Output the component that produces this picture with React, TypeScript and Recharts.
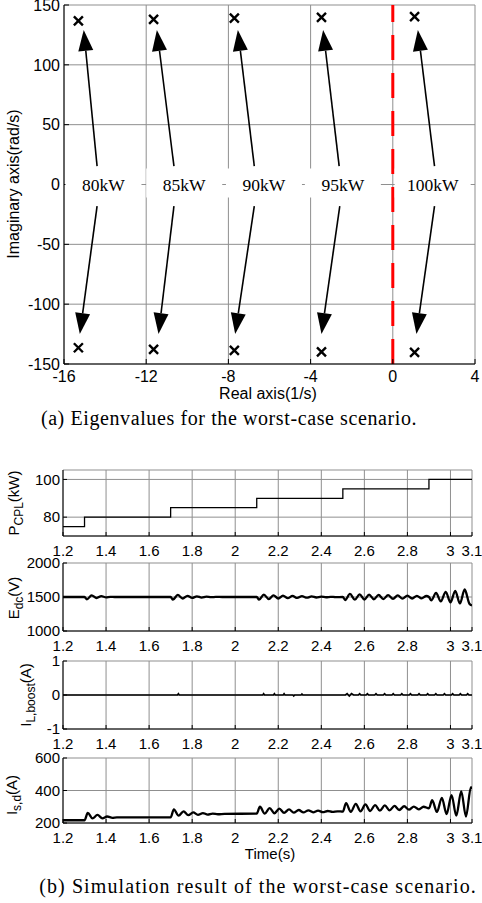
import {
  CartesianGrid,
  Line,
  LineChart,
  ReferenceDot,
  ReferenceLine,
  Scatter,
  ScatterChart,
  XAxis,
  YAxis,
} from "recharts";

// (a) eigenvalue map
const loadLabels = ["80kW", "85kW", "90kW", "95kW", "100kW"];
const eigenReal = [-15.3, -11.64, -7.71, -3.47, 1.06];
const eigenImagUpper = [136.7, 138, 139, 139.7, 140.3];
const eigenImagLower = [-136.4, -137.7, -138.6, -139.8, -140.3];
const labelReal = [-14.08, -10.15, -6.27, -2.43, 1.94];
const arrowTailUpper = [-14.39, -10.65, -6.74, -2.61, 2.03];
const arrowTipUpper = [-15.04, -11.48, -7.54, -3.39, 1.22];
const arrowTailLower = [-14.39, -10.65, -6.74, -2.58, 2.03];
const arrowTipLower = [-15.23, -11.4, -7.67, -3.47, 1.15];
const arrowTailImag = [15.3, -18.1];
const arrowTipImag = [129.2, -125];
const realTicks = [-16, -12, -8, -4, 0, 4];
const imagTicks = [-150, -100, -50, 0, 50, 100, 150];

// (b) time series
const timeTicks = [1.2, 1.4, 1.6, 1.8, 2, 2.2, 2.4, 2.6, 2.8, 3, 3.1];

const pcplPoints: [number, number][] = [
  [1.2, 75], [1.3, 80], [1.7, 85], [2.1, 90], [2.5, 95], [2.9, 100], [3.1, 100],
];

const edcPoints: [number, number][] = [
  [1.2, 1500], [1.3, 1500], [1.311, 1465], [1.333, 1525], [1.356, 1485], [1.378, 1512],
  [1.4, 1495], [1.42, 1503], [1.44, 1500], [1.7, 1500],
  [1.711, 1462], [1.733, 1530], [1.756, 1478], [1.778, 1518], [1.8, 1487], [1.822, 1510],
  [1.844, 1492], [1.866, 1505], [1.888, 1497], [1.91, 1502], [1.94, 1500], [2.1, 1500],
  [2.111, 1460], [2.133, 1535], [2.156, 1470], [2.178, 1525], [2.2, 1478], [2.222, 1520],
  [2.244, 1482], [2.266, 1516], [2.288, 1486], [2.31, 1512], [2.333, 1490], [2.355, 1508],
  [2.377, 1493], [2.4, 1505], [2.422, 1496], [2.444, 1503], [2.466, 1498], [2.5, 1500],
  [2.511, 1455], [2.533, 1545], [2.556, 1460], [2.578, 1540], [2.6, 1463], [2.622, 1535],
  [2.644, 1467], [2.666, 1530], [2.688, 1470], [2.71, 1527], [2.733, 1473], [2.755, 1524],
  [2.777, 1476], [2.8, 1520], [2.822, 1478], [2.844, 1518], [2.866, 1480], [2.888, 1515],
  [2.9, 1500], [2.911, 1450], [2.933, 1560], [2.955, 1435], [2.978, 1575], [3.0, 1420],
  [3.022, 1590], [3.044, 1405], [3.066, 1610], [3.088, 1400], [3.1, 1375],
];

const iboostPoints: [number, number][] = [
  [1.2, 0], [1.732, 0], [1.736, 0.04], [1.74, 0],
  [2.128, 0], [2.132, 0.04], [2.136, 0], [2.178, 0], [2.182, 0.04], [2.186, 0],
  [2.223, 0], [2.227, 0.04], [2.231, 0], [2.268, 0], [2.272, -0.03], [2.276, 0],
  [2.306, 0], [2.31, 0.03], [2.314, 0],
  [2.512, 0], [2.52, 0.04], [2.53, -0.03], [2.54, 0.04], [2.55, 0],
  [2.572, 0], [2.578, 0.04], [2.584, 0], [2.608, 0], [2.614, 0.04], [2.62, 0],
  [2.648, 0], [2.654, 0.04], [2.66, 0], [2.688, 0], [2.694, 0.04], [2.7, 0],
  [2.728, 0], [2.734, 0.04], [2.74, 0], [2.768, 0], [2.774, 0.04], [2.78, 0],
  [2.808, 0], [2.814, 0.04], [2.82, 0], [2.848, 0], [2.854, 0.04], [2.86, 0],
  [2.888, 0], [2.894, 0.04], [2.9, 0], [2.926, 0], [2.932, 0.04], [2.938, 0],
  [2.966, 0], [2.972, 0.04], [2.978, 0], [3.004, 0], [3.01, 0.04], [3.016, 0],
  [3.04, 0], [3.046, 0.04], [3.052, 0], [3.074, 0], [3.08, 0.04], [3.086, 0], [3.1, 0],
];

const isdPoints: [number, number][] = [
  [1.2, 217], [1.3, 217], [1.315, 262], [1.337, 228], [1.36, 250], [1.383, 229],
  [1.405, 240], [1.43, 232], [1.45, 234], [1.7, 235],
  [1.715, 284], [1.737, 245], [1.76, 272], [1.782, 248], [1.805, 265], [1.827, 250],
  [1.85, 261], [1.872, 252], [1.895, 258], [1.92, 254], [1.95, 256], [2.1, 258],
  [2.115, 300], [2.137, 258], [2.16, 292], [2.182, 260], [2.205, 288], [2.227, 262],
  [2.25, 284], [2.272, 264], [2.295, 280], [2.317, 265], [2.34, 278], [2.362, 266],
  [2.385, 276], [2.407, 267], [2.43, 274], [2.452, 268], [2.475, 272], [2.5, 270],
  [2.515, 322], [2.537, 268], [2.56, 318], [2.582, 272], [2.605, 314], [2.627, 274],
  [2.65, 310], [2.672, 276], [2.695, 308], [2.717, 278], [2.74, 305], [2.762, 280],
  [2.785, 303], [2.807, 282], [2.83, 301], [2.852, 284], [2.875, 300], [2.9, 290],
  [2.915, 340], [2.937, 268], [2.96, 355], [2.982, 255], [3.005, 372], [3.027, 245],
  [3.05, 395], [3.072, 240], [3.095, 420], [3.1, 410],
];

const SANS = "'Liberation Sans', Arial, sans-serif";
const SERIF = "'Liberation Serif', 'Times New Roman', serif";
const GRID = "#8f8f8f";

const eigenData = eigenReal
  .map((x, i) => ({ x, y: eigenImagUpper[i] }))
  .concat(eigenReal.map((x, i) => ({ x, y: eigenImagLower[i] })));

const crossShape = (p: any) => {
  const s = 4.5;
  return (
    <path
      d={`M${p.cx - s},${p.cy - s}L${p.cx + s},${p.cy + s}M${p.cx - s},${p.cy + s}L${p.cx + s},${p.cy - s}`}
      stroke="#000"
      strokeWidth={2.4}
      fill="none"
    />
  );
};

const arrowShape = (p: any) => {
  const { x1, y1, x2, y2 } = p;
  const dx = x2 - x1;
  const dy = y2 - y1;
  const len = Math.hypot(dx, dy) || 1;
  const ux = dx / len;
  const uy = dy / len;
  const hl = 21;
  const hw = 7.5;
  const bx = x2 - ux * hl;
  const by = y2 - uy * hl;
  const pts = `${x2},${y2} ${bx - uy * hw},${by + ux * hw} ${bx + uy * hw},${by - ux * hw}`;
  return (
    <g>
      <line x1={x1} y1={y1} x2={bx} y2={by} stroke="#000" strokeWidth={1.6} />
      <polygon points={pts} fill="#000" />
    </g>
  );
};

const labelBox = (text: string) => (p: any) => (
  <g>
    <rect x={p.cx - 38} y={p.cy - 16} width={76} height={29} fill="#fff" />
    <text
      x={p.cx}
      y={p.cy + 6}
      textAnchor="middle"
      fontFamily={SERIF}
      fontSize={17.5}
      fill="#000"
    >
      {text}
    </text>
  </g>
);

const fmtTime = (v: number) => String(Number(v.toFixed(1)));

function RotLabel({ x, y, children }: { x: number; y: number; children: any }) {
  return (
    <div
      style={{
        position: "absolute",
        left: x,
        top: y,
        transform: "translate(-50%, -50%) rotate(-90deg)",
        whiteSpace: "nowrap",
        fontFamily: SANS,
        fontSize: 15,
        color: "#000",
        lineHeight: 1,
      }}
    >
      {children}
    </div>
  );
}

type PanelProps = {
  top: number;
  plotHeight: number;
  points: [number, number][];
  domain: [number, number];
  ticks: number[];
  width: number;
  curve?: "stepAfter" | "linear" | "monotone";
};

function Panel({ top, plotHeight, points, domain, ticks, width, curve = "linear" }: PanelProps) {
  const data = points.map(([t, v]) => ({ t, v }));
  const h = plotHeight + 10 + 26;
  return (
    <div style={{ position: "absolute", left: 0, top: top - 10 }}>
      <LineChart width={482} height={h} data={data} margin={{ top: 10, right: 10, left: 8, bottom: 0 }}>
        <CartesianGrid stroke={GRID} strokeWidth={1} />
        <XAxis
          dataKey="t"
          type="number"
          domain={[1.2, 3.1]}
          ticks={timeTicks}
          tickFormatter={fmtTime}
          height={26}
          tickSize={-4}
          tickMargin={13}
          axisLine={{ stroke: "#000" }}
          tickLine={{ stroke: "#000" }}
          tick={{ fill: "#000", fontSize: 15, fontFamily: SANS }}
          interval={0}
          allowDataOverflow
        />
        <XAxis
          xAxisId="top"
          orientation="top"
          dataKey="t"
          type="number"
          domain={[1.2, 3.1]}
          ticks={timeTicks}
          height={0}
          tick={false}
          tickSize={-4}
          axisLine={{ stroke: "#000" }}
          tickLine={{ stroke: "#000" }}
          interval={0}
        />
        <YAxis
          type="number"
          domain={domain}
          ticks={ticks}
          width={55}
          tickSize={-4}
          tickMargin={7}
          axisLine={{ stroke: "#000" }}
          tickLine={{ stroke: "#000" }}
          tick={{ fill: "#000", fontSize: 15, fontFamily: SANS }}
          interval={0}
          allowDataOverflow
        />
        <YAxis
          yAxisId="right"
          orientation="right"
          type="number"
          domain={domain}
          ticks={ticks}
          width={0}
          tick={false}
          tickSize={-4}
          axisLine={{ stroke: "#000" }}
          tickLine={{ stroke: "#000" }}
          interval={0}
        />
        <Line
          dataKey="v"
          type={curve}
          stroke="#000"
          strokeWidth={width}
          dot={false}
          isAnimationActive={false}
        />
      </LineChart>
    </div>
  );
}

export default function App() {
  return (
    <div style={{ position: "absolute", left: 0, top: 0, width: 482, height: 903, background: "#fff" }}>
      <div style={{ position: "absolute", left: 0, top: 0 }}>
        <ScatterChart width={482} height={400} margin={{ top: 5, right: 7, left: 8, bottom: 0 }}>
          <CartesianGrid stroke={GRID} strokeWidth={1} />
          <XAxis
            dataKey="x"
            type="number"
            domain={[-16, 4]}
            ticks={realTicks}
            height={36}
            tickSize={-5}
            tickMargin={12}
            axisLine={{ stroke: "#000" }}
            tickLine={{ stroke: "#000" }}
            tick={{ fill: "#000", fontSize: 16, fontFamily: SANS }}
            interval={0}
          />
          <XAxis
            xAxisId="top"
            orientation="top"
            dataKey="x"
            type="number"
            domain={[-16, 4]}
            ticks={realTicks}
            height={0}
            tick={false}
            tickSize={-5}
            axisLine={{ stroke: "#000" }}
            tickLine={{ stroke: "#000" }}
            interval={0}
          />
          <YAxis
            dataKey="y"
            type="number"
            domain={[-150, 150]}
            ticks={imagTicks}
            width={56}
            tickSize={-5}
            tickMargin={9}
            axisLine={{ stroke: "#000" }}
            tickLine={{ stroke: "#000" }}
            tick={{ fill: "#000", fontSize: 16, fontFamily: SANS }}
            interval={0}
          />
          <YAxis
            yAxisId="right"
            orientation="right"
            dataKey="y"
            type="number"
            domain={[-150, 150]}
            ticks={imagTicks}
            width={0}
            tick={false}
            tickSize={-5}
            axisLine={{ stroke: "#000" }}
            tickLine={{ stroke: "#000" }}
            interval={0}
          />
          <ReferenceLine x={0} stroke="#ff0000" strokeWidth={3} strokeDasharray="25 13" />
          {loadLabels.map((name, i) => (
            <ReferenceDot key={name} x={labelReal[i]} y={0} r={1} shape={labelBox(name)} />
          ))}
          {loadLabels.map((name, i) => (
            <ReferenceLine
              key={`up-${name}`}
              segment={[
                { x: arrowTailUpper[i], y: arrowTailImag[0] },
                { x: arrowTipUpper[i], y: arrowTipImag[0] },
              ]}
              shape={arrowShape}
            />
          ))}
          {loadLabels.map((name, i) => (
            <ReferenceLine
              key={`down-${name}`}
              segment={[
                { x: arrowTailLower[i], y: arrowTailImag[1] },
                { x: arrowTipLower[i], y: arrowTipImag[1] },
              ]}
              shape={arrowShape}
            />
          ))}
          <Scatter data={eigenData} shape={crossShape} isAnimationActive={false} />
        </ScatterChart>
      </div>

      <RotLabel x={14} y={184}>
        <span style={{ fontSize: 16 }}>Imaginary axis(rad/s)</span>
      </RotLabel>
      <div style={{ position: "absolute", left: 268, top: 394, transform: "translate(-50%, -50%)", fontFamily: SANS, fontSize: 16, whiteSpace: "nowrap" }}>
        Real axis(1/s)
      </div>
      <div style={{ position: "absolute", left: 229, top: 418, transform: "translate(-50%, -50%)", fontFamily: SERIF, fontSize: 20, letterSpacing: 0.6, whiteSpace: "nowrap" }}>
        (a) Eigenvalues for the worst-case scenario.
      </div>

      <Panel top={470} plotHeight={66} points={pcplPoints} domain={[70, 105]} ticks={[80, 100]} width={1.3} curve="stepAfter" />
      <Panel top={563} plotHeight={68} points={edcPoints} domain={[1000, 2000]} ticks={[1000, 1500, 2000]} width={2.3} curve="monotone" />
      <Panel top={661} plotHeight={68} points={iboostPoints} domain={[-1, 1]} ticks={[-1, 0, 1]} width={1.6} />
      <Panel top={758} plotHeight={65} points={isdPoints} domain={[200, 600]} ticks={[200, 400, 600]} width={2.3} curve="monotone" />

      <RotLabel x={15} y={503}>
        P<sub style={{ fontSize: 12 }}>CPL</sub>(kW)
      </RotLabel>
      <RotLabel x={15} y={598}>
        E<sub style={{ fontSize: 12 }}>dc</sub>(V)
      </RotLabel>
      <RotLabel x={27} y={695}>
        I<sub style={{ fontSize: 12 }}>L,boost</sub>(A)
      </RotLabel>
      <RotLabel x={13} y={795}>
        I<sub style={{ fontSize: 12 }}>s,d</sub>(A)
      </RotLabel>
      <div style={{ position: "absolute", left: 270, top: 853, transform: "translate(-50%, -50%)", fontFamily: SANS, fontSize: 15, whiteSpace: "nowrap" }}>
        Time(s)
      </div>
      <div style={{ position: "absolute", left: 258, top: 886, transform: "translate(-50%, -50%)", fontFamily: SERIF, fontSize: 20, letterSpacing: 1.1, whiteSpace: "nowrap" }}>
        (b) Simulation result of the worst-case scenario.
      </div>
    </div>
  );
}
